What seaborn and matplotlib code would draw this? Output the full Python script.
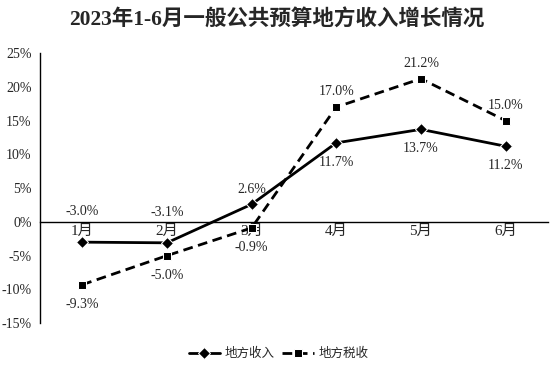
import matplotlib
matplotlib.use('Agg')
import matplotlib.pyplot as plt
import seaborn as sns
import pandas as pd

months = ['1月', '2月', '3月', '4月', '5月', '6月']
income = [-3.0, -3.1, 2.6, 11.7, 13.7, 11.2]
tax = [-9.3, -5.0, -0.9, 17.0, 21.2, 15.0]

# label offsets in points (above / below point)
income_off = [22, 22, 11, -14, -14, -14]
tax_off = [-14, -14, -14, 11, 11, 11]

sns.set_theme(style='white')
plt.rcParams['font.family'] = ['Liberation Serif', 'Noto Sans CJK SC']
plt.rcParams['axes.unicode_minus'] = False

fig = plt.figure(figsize=(5.54, 3.66), dpi=100)
ax = fig.add_axes([0.072, 0.117, 0.917, 0.738])

x = list(range(len(months)))
df = pd.DataFrame({'x': x, 'income': income, 'tax': tax})

sns.lineplot(data=df, x='x', y='income', ax=ax, color='black', lw=2,
             marker='D', markersize=6, label='地方收入')
sns.lineplot(data=df, x='x', y='tax', ax=ax, color='black', lw=2,
             linestyle=(0, (3.5, 2)), marker='s', markersize=6, label='地方税收')

for i in x:
    ax.annotate(f'{income[i]:.1f}%', (i, income[i]), xytext=(0, income_off[i]),
                textcoords='offset points', ha='center', va='center', fontsize=10)
    ax.annotate(f'{tax[i]:.1f}%', (i, tax[i]), xytext=(0, tax_off[i]),
                textcoords='offset points', ha='center', va='center', fontsize=10)

ax.set_xlim(-0.5, 5.5)
ax.set_ylim(-15, 25)
ax.set_yticks(range(-15, 26, 5))
ax.set_yticklabels([f'{v}%' for v in range(-15, 26, 5)], fontsize=10)
ax.set_xticks(x)
ax.set_xticklabels(months, fontsize=9)
ax.tick_params(axis='x', length=0, pad=2)
ax.tick_params(axis='y', length=0, pad=6)
ax.set_xlabel('')
ax.set_ylabel('')

ax.spines['bottom'].set_position(('data', 0))
ax.spines['top'].set_visible(False)
ax.spines['right'].set_visible(False)
for s in ['left', 'bottom']:
    ax.spines[s].set_color('black')
    ax.spines[s].set_linewidth(1)

ax.legend(loc='upper center', bbox_to_anchor=(0.47, -0.05), ncol=2, frameon=False,
          fontsize=9, handlelength=2.5, columnspacing=0.6, handletextpad=0.4)

fig.suptitle('2023年1-6月一般公共预算地方收入增长情况', x=0.5, y=0.975,
             fontsize=15.5, fontweight='bold', family=['Liberation Serif', 'Noto Sans CJK SC'])

fig.savefig('out.png', dpi=100)
